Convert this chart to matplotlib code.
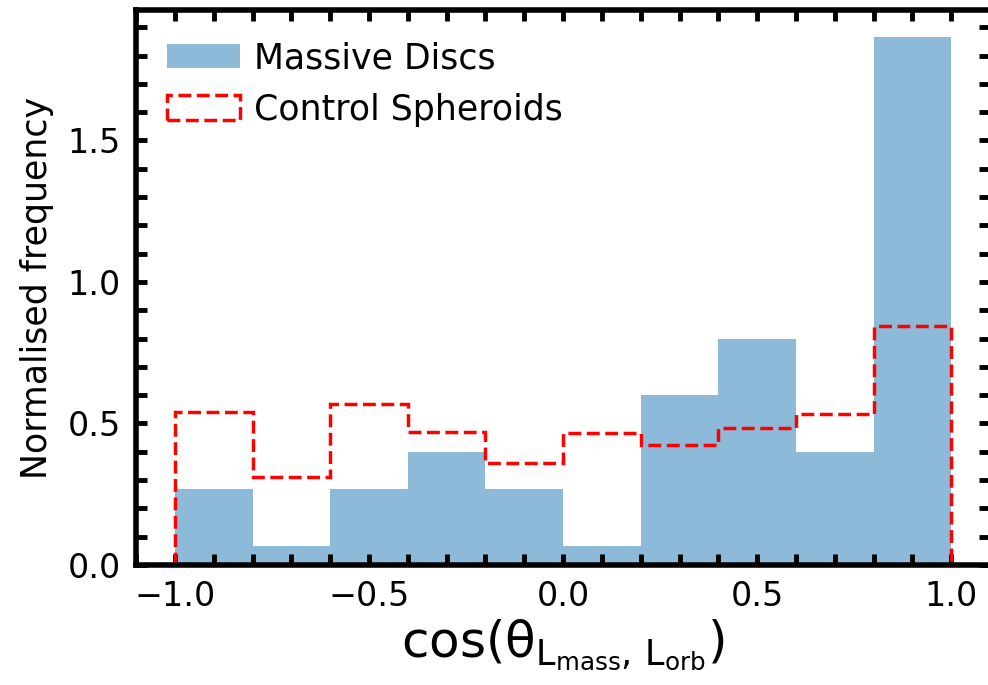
import numpy as np
import matplotlib.pyplot as plt

# Bin edges and normalised frequencies
bin_edges = np.linspace(-1.0, 1.0, 11)
discs = [0.267, 0.067, 0.267, 0.400, 0.267, 0.067, 0.600, 0.800, 0.400, 1.867]
spheroids = [0.540, 0.312, 0.568, 0.471, 0.362, 0.465, 0.423, 0.485, 0.534, 0.845]

centres = 0.5 * (bin_edges[:-1] + bin_edges[1:])

fig = plt.figure(figsize=(9.88, 6.85), dpi=100)
ax = fig.add_axes([0.1377, 0.1752, 0.8644, 0.81])

ax.hist(centres, bins=bin_edges, weights=discs, color='tab:blue', alpha=0.5,
        label='Massive Discs')
ax.hist(centres, bins=bin_edges, weights=spheroids, histtype='step', color='red',
        linestyle='--', linewidth=2.5, label='Control Spheroids')

ax.set_xlabel(r'cos($\mathregular{\theta_{L_{mass},\, L_{orb}}}$)', fontsize=36,
              labelpad=3)
ax.set_ylabel('Normalised frequency', fontsize=25, labelpad=10)

ax.set_xticks([-1.0, -0.5, 0.0, 0.5, 1.0])
ax.set_yticks([0.0, 0.5, 1.0, 1.5])
ax.minorticks_on()
ax.xaxis.set_minor_locator(plt.MultipleLocator(0.1))
ax.yaxis.set_minor_locator(plt.MultipleLocator(0.1))
ax.tick_params(which='both', direction='in', top=True, right=True,
               length=8, width=3.5, labelsize=24, pad=11)
for s in ax.spines.values():
    s.set_linewidth(4)

ax.legend(loc='upper left', frameon=False, fontsize=25, handlelength=2.1,
          handletextpad=0.4)

fig.savefig('out.png', dpi=100)
